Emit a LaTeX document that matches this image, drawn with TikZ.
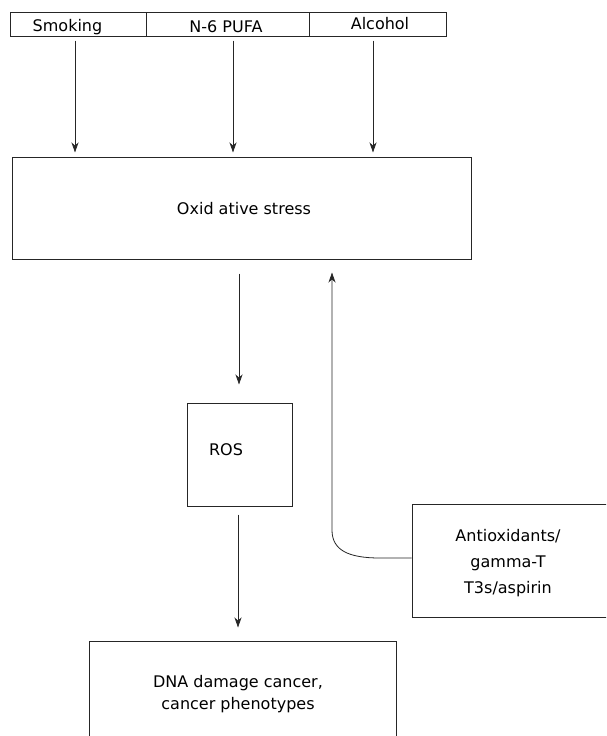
\documentclass[tikz,border=0pt]{standalone}
\usepackage{fontspec}
\setmainfont{DejaVu Sans}
\usetikzlibrary{arrows.meta,calc}
\begin{document}
\begin{tikzpicture}[x=1pt,y=-1pt,
  box/.style={draw=black!85, line width=1pt, inner sep=0pt, rectangle},
  txt/.style={inner sep=0pt, font=\fontsize{16}{22}\selectfont, align=center},
  arr/.style={draw=black!85, line width=0.8pt, -{Stealth[length=10pt,width=7pt,inset=3pt]}}
]
\useasboundingbox (0,0) rectangle (606,736);
\fill[white] (0,0) rectangle (606,736);
\clip (0,0) rectangle (606,736);

% top bar
\node[box, minimum width=136pt, minimum height=24pt] (smk) at (78,24) {};
\node[box, minimum width=163pt, minimum height=24pt] (pufa) at (227.5,24) {};
\node[box, minimum width=137pt, minimum height=24pt] (alc) at (377.5,24) {};
\node[txt, anchor=base] (tsmk) at (67.5,31) {Smoking};
\node[txt, anchor=base] (tpufa) at (226,32.5) {N-6 PUFA};
\node[txt, anchor=base] (talc) at (380,29.5) {Alcohol};

% oxidative stress
\node[box, minimum width=459pt, minimum height=102pt] (ox) at (241.5,208) {};
\node[txt, anchor=base] (tox) at (244,214) {Oxid ative stress};

% ROS
\node[box, minimum width=105pt, minimum height=103pt] (ros) at (239.5,454.5) {};
\node[txt, anchor=base] (tros) at (226,455) {ROS};

% DNA damage
\node[box, minimum width=307pt, minimum height=159pt] (dna) at (242.5,720.5) {};
\node[txt, font=\fontsize{16}{22}\selectfont] (tdna) at (238,693.8) {DNA damage cancer,\\cancer phenotypes};

% Antioxidants
\node[box, minimum width=228pt, minimum height=113pt] (anti) at (526,560.5) {};
\node[txt, font=\fontsize{16}{26}\selectfont] (tanti) at (508,562.8) {Antioxidants/\\gamma-T\\T3s/aspirin};

% arrow columns
\coordinate (c1) at (75,0);
\coordinate (c2) at (233,0);
\coordinate (c3) at (373,0);
\coordinate (c4) at (239,0);
\coordinate (c5) at (238,0);
\coordinate (bend1) at (380,558);
\coordinate (bend2) at (332,530);

\draw[arr, shorten <=4pt, shorten >=4pt] (smk.south -| c1) -- (ox.north -| c1);
\draw[arr, shorten <=4pt, shorten >=4pt] (pufa.south -| c2) -- (ox.north -| c2);
\draw[arr, shorten <=4pt, shorten >=4pt] (alc.south -| c3) -- (ox.north -| c3);
\draw[arr, shorten <=14pt, shorten >=18pt] (ox.south -| c4) -- (ros.north -| c4);
\draw[arr, shorten <=8pt, shorten >=13pt] (ros.south -| c5) -- (dna.north -| c5);
\draw[arr, shorten >=13pt] (anti.west |- bend1) -- (bend1) .. controls (348,558) and (332,550) .. (bend2) -- (ox.south -| bend2);
\end{tikzpicture}
\end{document}
